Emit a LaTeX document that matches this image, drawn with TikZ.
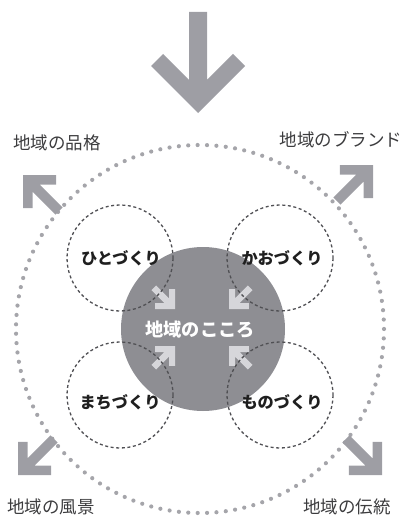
\documentclass[tikz,border=0pt]{standalone}
\usepackage{fontspec}
\setmainfont{Noto Sans CJK JP}
\definecolor{coregray}{RGB}{142,142,147}
\definecolor{arrowgray}{RGB}{158,158,164}
\definecolor{dotgray}{RGB}{165,165,170}
\definecolor{innerarrow}{RGB}{214,214,218}
\definecolor{dashgray}{RGB}{80,80,84}
\definecolor{labelgray}{RGB}{60,60,62}
\newcommand\chevarrow[8]{% x, y, angle, L, A, w, s, colour
  \fill[#8, shift={(#1,#2)}, rotate=#3]
    (0,0) -- ({-#5},{#5}) -- ({-#5-#6*0.7071},{#5-#6*0.7071})
    -- ({-#6*1.4142-#7/2},{#7/2}) -- ({-#4},{#7/2}) -- ({-#4},{-#7/2})
    -- ({-#6*1.4142-#7/2},{-#7/2}) -- ({-#5-#6*0.7071},{-#5+#6*0.7071})
    -- ({-#5},{-#5}) -- cycle;}
\tikzset{
  outerlbl/.style={text=labelgray, inner sep=0pt, font=\fontsize{17.5}{20}\selectfont},
  ringlbl/.style={text=black!88, inner sep=0pt, font=\fontsize{16.2}{19}\selectfont\bfseries},
  corelbl/.style={text=white, inner sep=0pt, font=\fontsize{18.2}{21}\selectfont\bfseries},
  dotring/.style={dotgray, line width=4.2pt, line cap=round, dash pattern=on 0pt off 9.4pt},
  dashring/.style={dashgray, line width=1.3pt, dash pattern=on 3pt off 2.6pt}
}
\begin{document}
\begin{tikzpicture}[x=1pt,y=-1pt]
\path[use as bounding box] (0,0) rectangle (408,519);
% outer dotted ring
\draw[dotring] (200,329) circle[radius=184];
% core
\fill[coregray] (203,329) circle[radius=82];
% inner converging arrows
\chevarrow{175}{309}{-45}{30}{14}{6}{6.5}{innerarrow}
\chevarrow{229}{309}{-135}{30}{14}{6}{6.5}{innerarrow}
\chevarrow{175}{346}{45}{30}{14}{6}{6.5}{innerarrow}
\chevarrow{229}{346}{135}{30}{14}{6}{6.5}{innerarrow}
% dashed rings
\draw[dashring] (120,258) circle[radius=53];
\draw[dashring] (280,258) circle[radius=53];
\draw[dashring] (120,395) circle[radius=53];
\draw[dashring] (280,395) circle[radius=53];
% big top arrow
\chevarrow{198}{113}{-90}{101}{47}{17}{18}{arrowgray}
% diagonal outer arrows
\chevarrow{23}{175}{135}{51}{23.5}{9.5}{10}{arrowgray}
\chevarrow{373}{165}{45}{51}{23.5}{9.5}{10}{arrowgray}
\chevarrow{18}{475}{-135}{51}{23.5}{9.5}{10}{arrowgray}
\chevarrow{382}{475}{-45}{51}{23.5}{9.5}{10}{arrowgray}
% labels
\node[outerlbl] (hinkaku) at (57,143) {地域の品格};
\node[outerlbl] (brand) at (341,140) {地域のブランド};
\node[outerlbl] (fukei) at (51,507) {地域の風景};
\node[outerlbl] (dento) at (347,507) {地域の伝統};
\node[ringlbl] (hito) at (121,258) {ひとづくり};
\node[ringlbl] (kao) at (282,258) {かおづくり};
\node[ringlbl] (machi) at (120,402) {まちづくり};
\node[ringlbl] (mono) at (282,402) {ものづくり};
\node[corelbl] (kokoro) at (200,330) {地域のこころ};
\end{tikzpicture}
\end{document}
